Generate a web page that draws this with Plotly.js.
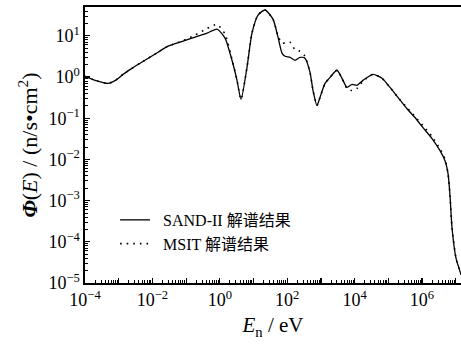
<!DOCTYPE html>
<html>
<head>
<meta charset="utf-8">
<script src="https://cdn.plot.ly/plotly-3.0.1.min.js"></script>
<style>html,body{margin:0;padding:0;background:#fff;}#chart{width:461px;height:348px;}</style>
</head>
<body>
<div id="chart"></div>
<script>
// Neutron energy (eV)
var energy = [1.0e-4, 2.0e-4, 4.8e-4, 8.0e-4, 1.34e-3, 2.4e-3, 4.3e-3, 0.0147, 0.029, 0.081, 0.184,
  0.417, 0.826, 1.43, 2.30, 3.24, 4.26, 6.41, 9.0, 13.6, 21.9,
  37.9, 53.3, 70.1, 86.1, 121, 170, 240, 337, 475, 583,
  766, 940, 1324, 1862, 3006, 4227, 5943, 8375, 11780, 17740,
  35160, 65010, 112200, 194100, 358900, 619400, 1.07e6, 1.98e6, 3.42e6, 4.81e6,
  5.92e6, 6.78e6, 7.76e6, 1.02e7, 1.44e7];
// SAND-II unfolding result, n/(s*cm^2)
var sand2 = [1.04, 0.83, 0.70, 0.83, 1.16, 1.6, 2.16, 4.0, 5.6, 7.4, 9.3,
  11.6, 14.6, 8.8, 2.55, 0.83, 0.286, 1.72, 11.6, 32, 42.4,
  25.5, 9.3, 3.8, 3.2, 3.0, 2.55, 3.0, 2.86, 1.30, 0.47,
  0.204, 0.32, 0.70, 0.98, 1.46, 0.93, 0.56, 0.66, 0.63, 0.83,
  1.16, 0.93, 0.56, 0.32, 0.17, 0.104, 0.059, 0.032, 0.0163, 0.0093,
  0.0045, 0.0013, 2.2e-4, 4.0e-5, 1.6e-5];
// MSIT unfolding result
var msit = [1.04, 0.83, 0.70, 0.83, 1.16, 1.6, 2.16, 4.0, 5.6, 7.6, 10.4,
  15.0, 18.8, 11.0, 2.7, 0.83, 0.286, 1.72, 11.6, 32, 42.4,
  25.5, 10.0, 6.6, 6.8, 7.0, 4.6, 4.2, 3.2, 1.30, 0.47,
  0.204, 0.32, 0.70, 0.98, 1.46, 0.93, 0.53, 0.47, 0.53, 0.79,
  1.16, 0.93, 0.56, 0.32, 0.18, 0.11, 0.066, 0.036, 0.018, 0.0102,
  0.0045, 0.0013, 2.2e-4, 4.0e-5, 1.6e-5];
var xTickVals = [1e-4, 1e-3, 1e-2, 1e-1, 1, 10, 100, 1e3, 1e4, 1e5, 1e6, 1e7];
var xTickText = ['10<sup>\u22124</sup>', '', '10<sup>\u22122</sup>', '', '10<sup>0</sup>', '', '10<sup>2</sup>', '', '10<sup>4</sup>', '', '10<sup>6</sup>', ''];
var yTickVals = [1e-5, 1e-4, 1e-3, 1e-2, 1e-1, 1, 10];
var yTickText = ['10<sup>\u22125</sup>', '10<sup>\u22124</sup>', '10<sup>\u22123</sup>', '10<sup>\u22122</sup>', '10<sup>\u22121</sup>', '10<sup>0</sup>', '10<sup>1</sup>'];
var legendNames = ['\u00a0\u00a0SAND-II \u89e3\u8c31\u7ed3\u679c', '\u00a0\u00a0MSIT \u89e3\u8c31\u7ed3\u679c'];

function minorVals(lo, hi) {
  var out = [];
  for (var e = lo; e <= hi; e++) {
    for (var m = 2; m <= 9; m++) out.push(m * Math.pow(10, e));
  }
  return out;
}

var font = '"Liberation Serif", "Times New Roman", "Noto Sans CJK SC", serif';

var traces = [
  {x: energy, y: sand2, type: 'scatter', mode: 'lines', name: legendNames[0],
   line: {color: '#000', width: 1.3, shape: 'spline', smoothing: 0.6}},
  {x: energy, y: msit, type: 'scatter', mode: 'lines', name: legendNames[1],
   line: {color: '#000', width: 1.6, dash: '1.6px,5px', shape: 'spline', smoothing: 0.6}}
];

var layout = {
  width: 461, height: 348,
  margin: {l: 85, r: 0, t: 7, b: 65},
  paper_bgcolor: '#fff', plot_bgcolor: '#fff',
  font: {family: font, color: '#000', size: 16},
  showlegend: true,
  legend: {x: 0.08, y: 0.29, xanchor: 'left', yanchor: 'top', bgcolor: 'rgba(0,0,0,0)',
           font: {family: font, size: 16, color: '#000'}, tracegroupgap: 0},
  xaxis: {
    type: 'log', range: [-4, 7.157],
    showgrid: false, zeroline: false,
    showline: true, linecolor: '#000', linewidth: 1.6, mirror: true,
    ticks: 'inside', ticklen: 5, tickwidth: 1.2, tickcolor: '#000',
    tickmode: 'array', tickvals: xTickVals, ticktext: xTickText,
    tickfont: {family: font, size: 18},
    minor: {tickmode: 'array', tickvals: minorVals(-4, 7), ticks: 'inside', ticklen: 3, tickwidth: 1, tickcolor: '#000', showgrid: false},
    title: {text: '<i>E</i><sub>n</sub> / eV', font: {family: font, size: 21}, standoff: 8}
  },
  yaxis: {
    type: 'log', range: [-5, 1.7],
    showgrid: false, zeroline: false,
    showline: true, linecolor: '#000', linewidth: 1.6, mirror: true,
    ticks: 'inside', ticklen: 5, tickwidth: 1.2, tickcolor: '#000',
    tickmode: 'array', tickvals: yTickVals, ticktext: yTickText,
    tickfont: {family: font, size: 18},
    minor: {tickmode: 'array', tickvals: minorVals(-5, 1), ticks: 'inside', ticklen: 3, tickwidth: 1, tickcolor: '#000', showgrid: false},
    title: {text: '<b><i>\u03a6</i></b>(<i>E</i>) / (n/s\u2022cm<sup>2</sup>)', font: {family: font, size: 22}, standoff: 4}
  }
};

Plotly.newPlot('chart', traces, layout, {staticPlot: true, displayModeBar: false});
</script>
</body>
</html>
